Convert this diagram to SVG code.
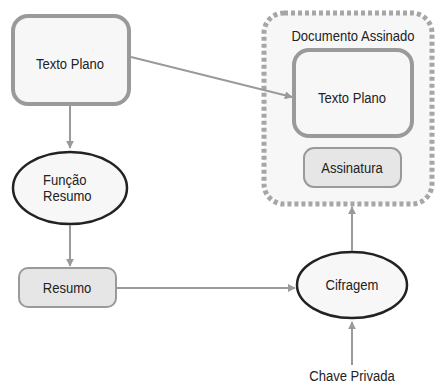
<svg xmlns="http://www.w3.org/2000/svg" width="435" height="383" viewBox="0 0 435 383">
  <defs>
    <marker id="arrow" viewBox="0 0 10 10" refX="9" refY="5" markerWidth="8" markerHeight="8" markerUnits="userSpaceOnUse" orient="auto">
      <path d="M0,0 L10,5 L0,10 z" fill="#9a9a9a"/>
    </marker>
  </defs>
  <style>
    text { font-family: "Liberation Sans", Arial, sans-serif; font-size: 15px; fill: #222; text-anchor: middle; }
    .big { fill: #f7f7f7; stroke: #9a9a9a; stroke-width: 4; }
    .small { fill: #e6e6e6; stroke: #9a9a9a; stroke-width: 2; }
    .oval { fill: #f7f7f7; stroke: #222; stroke-width: 2.5; }
    .group { fill: #f7f7f7; stroke: #a6a6a6; stroke-width: 5; stroke-dasharray: 4 3; }
    .conn { fill: none; stroke: #9a9a9a; stroke-width: 2; marker-end: url(#arrow); }
  </style>
  <rect width="435" height="383" fill="#ffffff"/>

  <!-- labels are set in a narrowed sans: x-scale 0.87 -->
  <g id="documento-assinado">
    <rect class="group" x="264" y="13" width="168" height="191" rx="20"/>
    <text transform="translate(353 41) scale(0.87 1)">Documento Assinado</text>
  </g>

  <g id="texto-plano-assinado">
    <rect class="big" x="294" y="50" width="118" height="86" rx="15"/>
    <text transform="translate(352 103) scale(0.87 1)">Texto Plano</text>
  </g>

  <g id="assinatura">
    <rect class="small" x="304" y="148" width="97" height="39" rx="10"/>
    <text transform="translate(352 173) scale(0.87 1)">Assinatura</text>
  </g>

  <g id="texto-plano">
    <rect class="big" x="13" y="16" width="116" height="88" rx="15"/>
    <text transform="translate(70 69) scale(0.87 1)">Texto Plano</text>
  </g>

  <g id="funcao-resumo">
    <ellipse class="oval" cx="70" cy="188" rx="57" ry="36"/>
    <text transform="translate(43 185) scale(0.87 1)" style="text-anchor:start">Função</text>
    <text transform="translate(43 201) scale(0.87 1)" style="text-anchor:start">Resumo</text>
  </g>

  <g id="resumo">
    <rect class="small" x="19" y="268" width="97" height="39" rx="9"/>
    <text transform="translate(67 293) scale(0.87 1)">Resumo</text>
  </g>

  <g id="cifragem">
    <ellipse class="oval" cx="352" cy="285" rx="55" ry="33"/>
    <text transform="translate(352 290) scale(0.87 1)">Cifragem</text>
  </g>

  <g id="chave-privada">
    <text transform="translate(352 381) scale(0.87 1)">Chave Privada</text>
  </g>

  <g id="connectors">
    <line class="conn" x1="131" y1="57" x2="292" y2="97"/>
    <line class="conn" x1="70" y1="106" x2="70" y2="148"/>
    <line class="conn" x1="70" y1="225" x2="70" y2="266"/>
    <line class="conn" x1="117" y1="288" x2="295" y2="288"/>
    <line class="conn" x1="352" y1="251" x2="352" y2="207"/>
    <line class="conn" x1="352" y1="365" x2="352" y2="322"/>
  </g>
</svg>
